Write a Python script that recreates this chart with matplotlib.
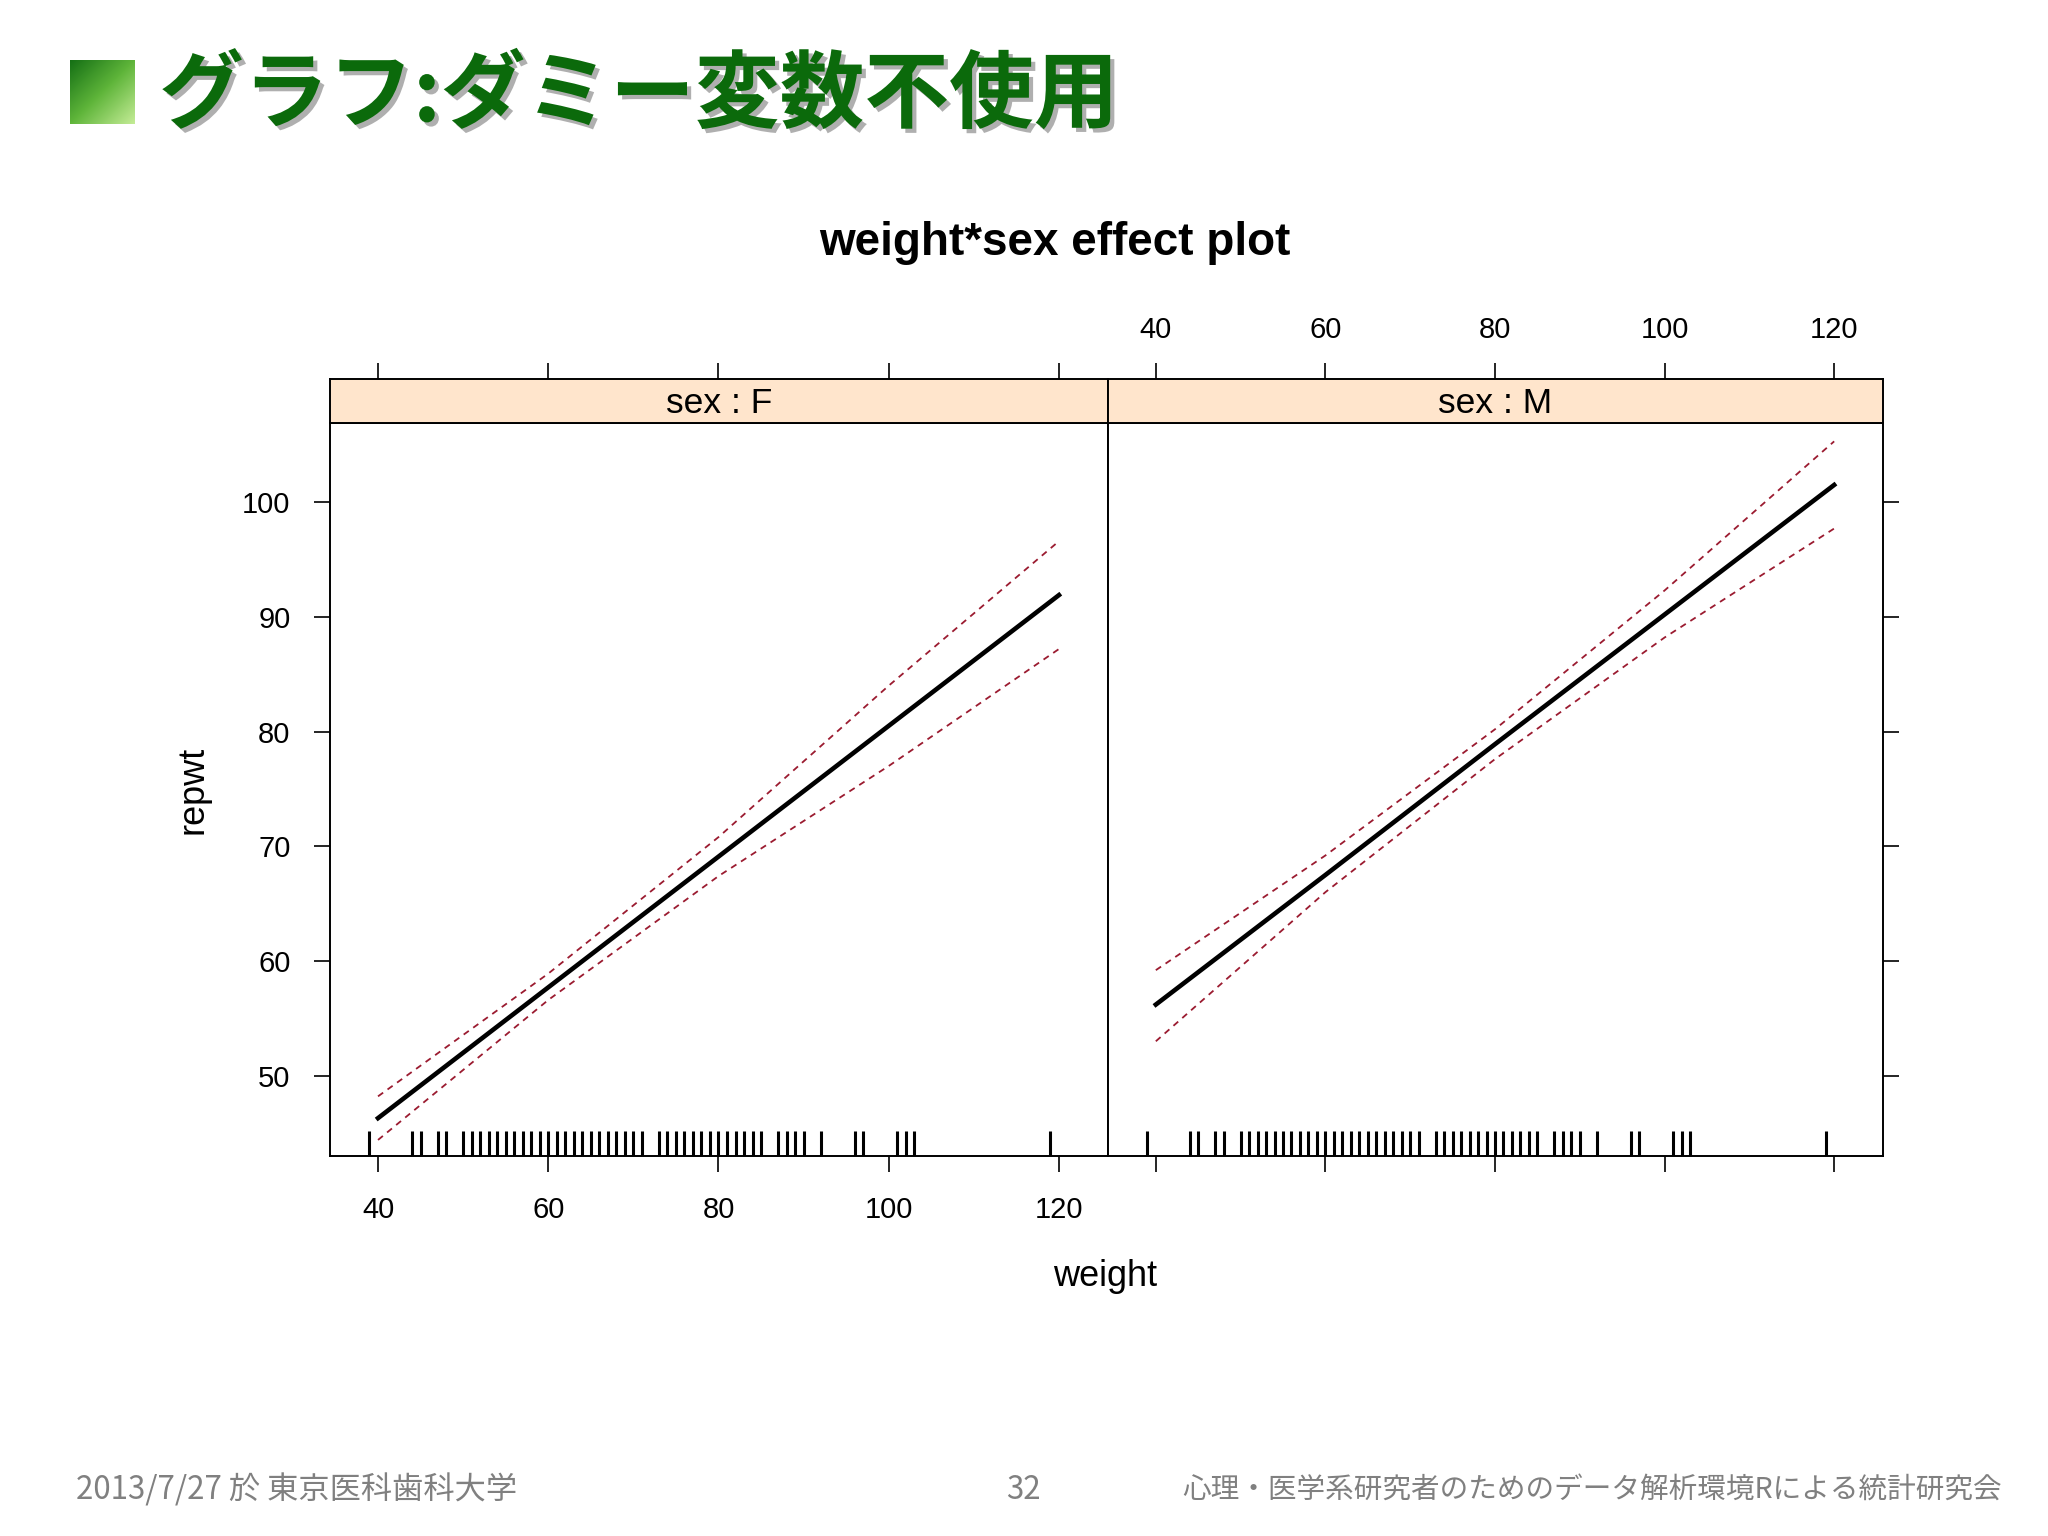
import numpy as np
import matplotlib
matplotlib.use('Agg')
import matplotlib.pyplot as plt
from matplotlib import patheffects
from matplotlib.colors import LinearSegmentedColormap
from matplotlib.transforms import blended_transform_factory

plt.rcParams['font.family'] = ['Liberation Sans', 'Noto Sans CJK JP', 'DejaVu Sans']

# effect values at the weight levels, per sex
weight_levels = [40, 60, 80, 100, 120]
fit_F = [46.3, 57.7, 69.1, 80.5, 91.9]
lower_F = [44.4, 56.6, 67.4, 77.0, 87.2]
upper_F = [48.2, 58.9, 70.8, 84.0, 96.6]
fit_M = [56.2, 67.5, 78.9, 90.2, 101.5]
lower_M = [53.0, 66.0, 77.6, 88.2, 97.7]
upper_M = [59.2, 69.2, 80.2, 92.3, 105.3]

# observed weights (rug, same in both panels)
rug_weight = [39, 44, 45, 47, 48, 50, 51, 52, 53, 54, 55, 56, 57, 58, 59, 60,
              61, 62, 63, 64, 65, 66, 67, 68, 69, 70, 71, 73, 74, 75, 76, 77,
              78, 79, 80, 81, 82, 83, 84, 85, 87, 88, 89, 90, 92, 96, 97, 101,
              102, 103, 119]

x_ticks = [40, 60, 80, 100, 120]
y_ticks = [50, 60, 70, 80, 90, 100]

W, H = 2048, 1536
def box(x0, y0, x1, y1):
    return [x0 / W, 1 - y1 / H, (x1 - x0) / W, (y1 - y0) / H]

fig = plt.figure(figsize=(20.48, 15.36), dpi=100)

XLIM = (34.36, 125.76)
YLIM = (43.0, 106.9)
ci_col = '#9b1b30'

axF = fig.add_axes(box(330, 423, 1108, 1156))
axM = fig.add_axes(box(1108, 423, 1883, 1156))
stF = fig.add_axes(box(330, 379, 1108, 423))
stM = fig.add_axes(box(1108, 379, 1883, 423))

data = {'F': (fit_F, lower_F, upper_F), 'M': (fit_M, lower_M, upper_M)}

for ax, st, lev in [(axF, stF, 'F'), (axM, stM, 'M')]:
    fit, lo, up = data[lev]
    ax.plot(weight_levels, fit, color='black', lw=3.3)
    ax.plot(weight_levels, lo, color=ci_col, lw=1.3, ls=(0, (3.5, 3)))
    ax.plot(weight_levels, up, color=ci_col, lw=1.3, ls=(0, (3.5, 3)))
    trans = blended_transform_factory(ax.transData, ax.transAxes)
    ax.vlines(rug_weight, 0, 0.034, transform=trans, color='black', lw=2.2)
    ax.set_xlim(*XLIM)
    ax.set_ylim(*YLIM)
    ax.set_xticks(x_ticks)
    ax.set_yticks(y_ticks)
    for s in ax.spines.values():
        s.set_linewidth(1.4)
    ax.tick_params(direction='out', length=11.5, width=1.2, labelsize=21, pad=17)

    st.set_facecolor('#ffe5cc')
    st.set_xlim(*XLIM)
    st.set_ylim(0, 1)
    st.set_yticks([])
    st.set_xticks(x_ticks)
    st.tick_params(axis='x', direction='out', length=11.5, width=1.2, labelsize=21,
                   bottom=False, labelbottom=False, top=True, pad=14)
    for s in st.spines.values():
        s.set_linewidth(1.4)
    st.text(0.5, 0.45, 'sex : ' + lev, transform=st.transAxes, ha='center',
            va='center', fontsize=25.5)

axF.tick_params(axis='x', labelbottom=True)
axF.tick_params(axis='y', left=True, labelleft=True, right=False)
stF.tick_params(axis='x', labeltop=False)
axM.tick_params(axis='x', labelbottom=False)
axM.tick_params(axis='y', left=False, labelleft=False, right=True, labelright=False)
stM.tick_params(axis='x', labeltop=True)

fig.text(0.515, 1 - 243 / H, 'weight*sex effect plot', ha='center', va='center',
         fontsize=33, fontweight='bold')
fig.text(1105 / W, 1 - 1277 / H, 'weight', ha='center', va='center', fontsize=26)
fig.text(193 / W, 1 - 790 / H, 'repwt', ha='center', va='center', fontsize=26,
         rotation=90)

# slide heading with green square bullet
bul = fig.add_axes(box(70, 60, 135, 124))
g = np.linspace(0, 1, 64)
grad = (g[None, :] + g[:, None]) / 2
cmap = LinearSegmentedColormap.from_list('bul', ['#157015', '#5fb53a', '#c4ec96'])
bul.imshow(grad, cmap=cmap, aspect='auto')
bul.axis('off')

fig.text(159 / W, 1 - 96 / H, 'グラフ:ダミー変数不使用', ha='left', va='center',
         fontsize=61, fontweight='bold', color='#0b6a0b',
         family=['Noto Sans CJK JP', 'DejaVu Sans'],
         path_effects=[patheffects.withSimplePatchShadow(offset=(3, -3),
                                                         shadow_rgbFace='#606060',
                                                         alpha=0.5)])

foot = dict(color='#808080', va='center',
            family=['Noto Sans CJK JP', 'DejaVu Sans'])
fig.text(76 / W, 1 - 1490 / H, '2013/7/27 於 東京医科歯科大学', ha='left',
         fontsize=22.5, **foot)
fig.text(1023 / W, 1 - 1490 / H, '32', ha='center', fontsize=22.5, **foot)
fig.text(2002 / W, 1 - 1490 / H, '心理・医学系研究者のためのデータ解析環境Rによる統計研究会',
         ha='right', fontsize=20.6, **foot)

fig.savefig('out.png', dpi=100)
